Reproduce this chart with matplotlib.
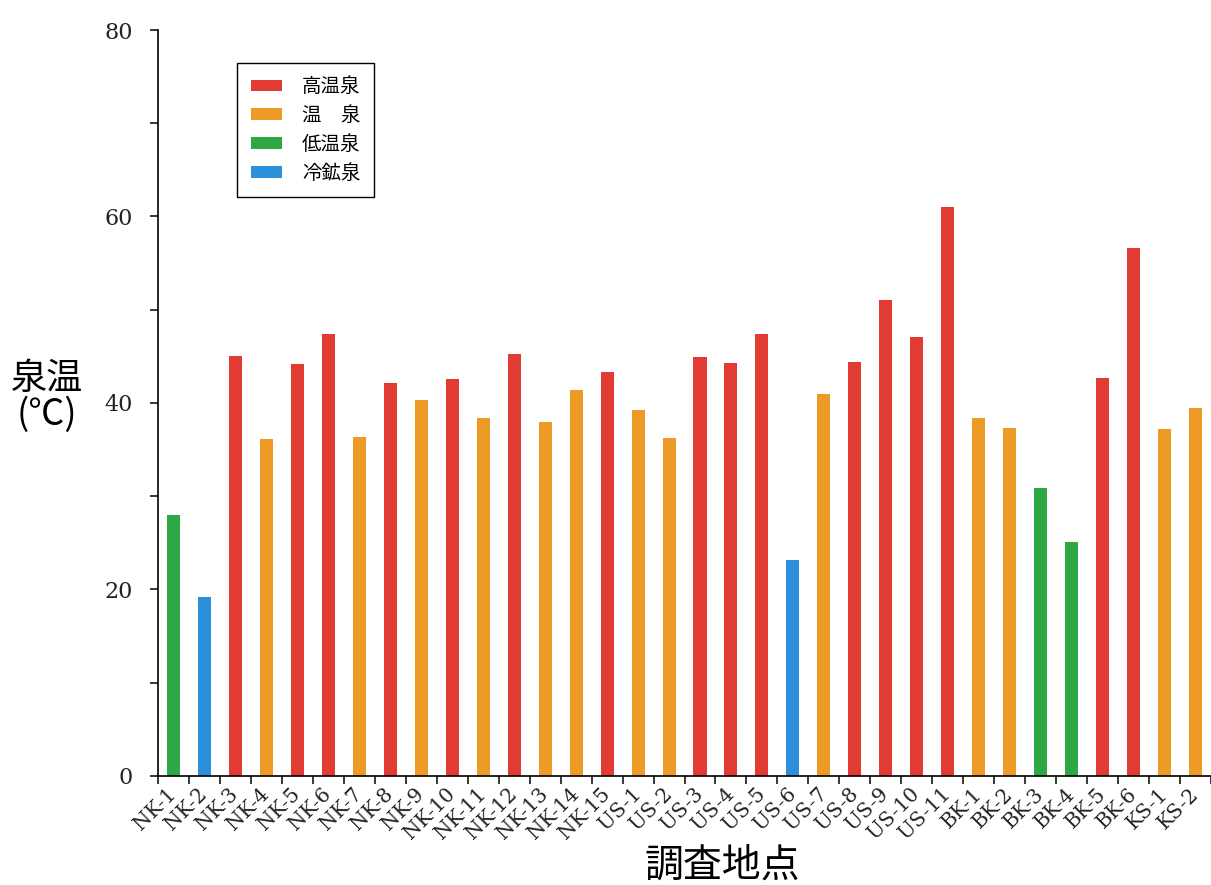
import numpy as np
import matplotlib
matplotlib.use("Agg")
import matplotlib.pyplot as plt
import matplotlib.patches as mpatches

plt.rcParams['font.family'] = ['Noto Sans CJK JP', 'DejaVu Sans']

sites = ["NK-1", "NK-2", "NK-3", "NK-4", "NK-5", "NK-6", "NK-7", "NK-8", "NK-9", "NK-10",
         "NK-11", "NK-12", "NK-13", "NK-14", "NK-15",
         "US-1", "US-2", "US-3", "US-4", "US-5", "US-6", "US-7", "US-8", "US-9", "US-10", "US-11",
         "BK-1", "BK-2", "BK-3", "BK-4", "BK-5", "BK-6", "KS-1", "KS-2"]
temps = [28.0, 19.2, 45.0, 36.1, 44.2, 47.4, 36.3, 42.1, 40.3, 42.6,
         38.4, 45.2, 38.0, 41.4, 43.3,
         39.3, 36.2, 44.9, 44.3, 47.4, 23.2, 41.0, 44.4, 51.0, 47.1, 61.0,
         38.4, 37.3, 30.9, 25.1, 42.7, 56.6, 37.2, 39.5]
kinds = ["low", "cold", "high", "warm", "high", "high", "warm", "high", "warm", "high",
         "warm", "high", "warm", "warm", "high",
         "warm", "warm", "high", "high", "high", "cold", "warm", "high", "high", "high", "high",
         "warm", "warm", "low", "low", "high", "high", "warm", "warm"]

kind_order = ["high", "warm", "low", "cold"]
kind_labels = ["高温泉", "温\u3000泉", "低温泉", "冷鉱泉"]
kind_colors = {"high": "#e23b34", "warm": "#ee9a27", "low": "#2da845", "cold": "#2b90d9"}

fig = plt.figure(figsize=(12.11, 8.85), dpi=100)
ax = fig.add_axes([0.1305, 0.1232, 0.8695, 0.8429])

x = np.arange(len(sites))
ax.bar(x, temps, width=0.42, color=[kind_colors[k] for k in kinds])

ax.set_xlim(-0.5, len(sites) - 0.5)
ax.set_ylim(0, 80)

for s in ["top", "right"]:
    ax.spines[s].set_visible(False)
for s in ["left", "bottom"]:
    ax.spines[s].set_linewidth(1.2)

ax.set_yticks([0, 20, 40, 60, 80])
ax.set_yticks([10, 30, 50, 70], minor=True)
ax.set_yticklabels(["0", "20", "40", "60", "80"], family="DejaVu Serif", fontsize=16,
                   color="#222222")
ax.tick_params(axis='y', which='both', direction='out', length=6, width=1.1, pad=12)

ax.set_xticks(x)
ax.set_xticklabels(sites, rotation=45, ha='right', va='center', rotation_mode='anchor',
                   family="DejaVu Serif", fontsize=14.5, color="#222222")
ax.set_xticks(np.arange(len(sites) + 1) - 0.5, minor=True)
ax.tick_params(axis='x', which='major', length=0, pad=11)
ax.tick_params(axis='x', which='minor', direction='out', length=6, width=1.1)

handles = [mpatches.Patch(facecolor=kind_colors[k]) for k in kind_order]
leg = ax.legend(handles, kind_labels, loc='upper left', bbox_to_anchor=(0.075, 0.956),
                borderaxespad=0, fontsize=14, handlelength=1.6, handleheight=0.55,
                handletextpad=1.05, labelspacing=0.4, borderpad=0.7,
                fancybox=False, framealpha=1)
leg.get_frame().set_edgecolor("black")
leg.get_frame().set_linewidth(1.0)

fig.text(47 / 1211, 1 - 397 / 885, "泉温\n(℃)", fontsize=26, ha='center', va='center',
         linespacing=1.0)
fig.text(722 / 1211, 1 - 866 / 885, "調査地点", fontsize=28, ha='center', va='center')

fig.savefig("out.png", dpi=100)
